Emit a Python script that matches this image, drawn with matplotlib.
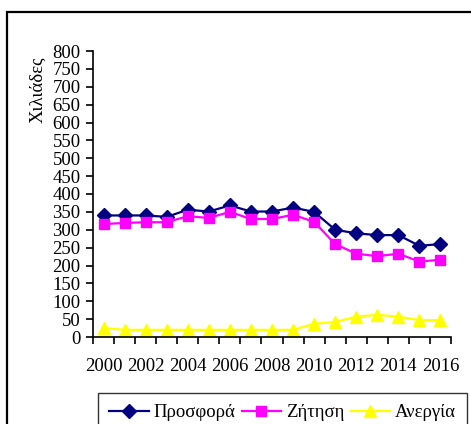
import numpy as np
import matplotlib
matplotlib.use("Agg")
import matplotlib.pyplot as plt
from matplotlib.patches import Rectangle

plt.rcParams["font.family"] = ["Liberation Serif", "DejaVu Serif"]

# ---------- data ----------
years = list(range(2000, 2017))
prosfora = [340, 340, 340, 336, 356, 351, 368, 351, 351, 362, 350, 300, 290, 285, 285, 255, 260]
zitisi = [316, 319, 321, 321, 338, 333, 350, 330, 330, 342, 322, 260, 233, 226, 233, 211, 216]
anergia = [25, 20, 20, 20, 20, 20, 20, 20, 20, 20, 37, 42, 57, 62, 57, 47, 47]
series_names = ["Προσφορά", "Ζήτηση", "Ανεργία"]
y_ticks = list(range(0, 801, 50))

FS = 13.5
W, H = 471, 424
fig = plt.figure(figsize=(W / 100, H / 100), dpi=100)
ax = fig.add_axes([93 / W, 1 - 337 / H, (451 - 93) / W, (337 - 51) / H])

xs = np.arange(len(years))
ax.plot(xs, prosfora, color="#000080", lw=1.6, marker="D", ms=7, label=series_names[0])
ax.plot(xs, zitisi, color="#FF00FF", lw=1.6, marker="s", ms=7.5, label=series_names[1])
ax.plot(xs, anergia, color="#FFFF00", lw=1.6, marker="^", ms=8.5, label=series_names[2])

ax.set_xlim(-0.5, len(years) - 0.5)
ax.set_ylim(0, 800)
ax.set_yticks(y_ticks)
ax.tick_params(axis="y", length=5, width=1.2, pad=4, labelsize=FS)

# category axis: ticks between categories, labels every second year
ax.set_xticks(np.arange(-0.5, len(years), 1.0))
ax.set_xticklabels([])
ax.tick_params(axis="x", which="major", length=5, width=1.2)
ax.set_xticks(xs[::2], minor=True)
ax.set_xticklabels([str(y) for y in years[::2]], minor=True)
ax.tick_params(axis="x", which="minor", length=0, pad=15, labelsize=FS)

for s in ["top", "right"]:
    ax.spines[s].set_visible(False)
for s in ["left", "bottom"]:
    ax.spines[s].set_linewidth(1.2)

ax.set_ylabel("Χιλιάδες", fontsize=FS)
ax.yaxis.set_label_coords(-47 / (451 - 93), 0.864)

leg = fig.legend(loc="upper left", bbox_to_anchor=(98 / W, 1 - 393 / H), ncol=3,
                 fontsize=FS, frameon=True, fancybox=False, handlelength=2.1,
                 columnspacing=0.35, handletextpad=0.25, borderpad=0.6,
                 borderaxespad=0)
leg.get_frame().set_edgecolor("black")
leg.get_frame().set_linewidth(1.0)

# chart area border (cropped on right/bottom)
fig.patches.append(Rectangle((7 / W, -1), 2, 1 - 12 / H + 1, transform=fig.transFigure,
                             fill=False, lw=1.6, edgecolor="black"))

fig.savefig("out.png", dpi=100)
